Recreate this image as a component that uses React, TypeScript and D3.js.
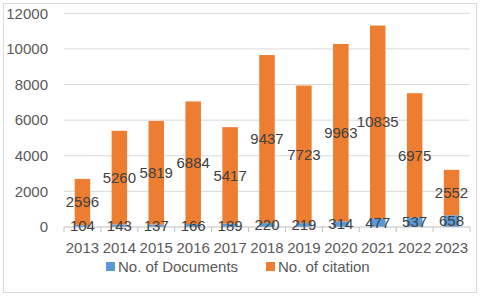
import React from 'react';
import * as d3 from 'd3';

const years = ['2013', '2014', '2015', '2016', '2017', '2018', '2019', '2020', '2021', '2022', '2023'];
const documents = [104, 143, 137, 166, 189, 220, 219, 314, 477, 537, 658];
const citations = [2596, 5260, 5819, 6884, 5417, 9437, 7723, 9963, 10835, 6975, 2552];
const yTicks = [0, 2000, 4000, 6000, 8000, 10000, 12000];

const W = 480;
const H = 297;
const left = 64;
const right = 470;
const top = 13.3;
const bottom = 227;
const font = '"Liberation Sans", Arial, sans-serif';
const BLUE = '#5B9BD5';
const ORANGE = '#ED7D31';
const TEXT = '#595959';
const LABEL = '#404040';

const App = () => {
  const x = d3.scaleBand<string>()
    .domain(years)
    .range([left, right])
    .paddingInner(0.58)
    .paddingOuter(0.29);

  const y = d3.scaleLinear().domain([0, 12000]).range([bottom, top]);
  const step = x.step();

  return (
    <svg width={W} height={H} style={{ position: 'absolute', left: 0, top: 0 }}>
      <rect x={0} y={0} width={W} height={H} fill="#fff" />
      <rect x={3.5} y={3.5} width={473} height={289} fill="none" stroke="#d9d9d9" />

      {/* grid + y labels */}
      {yTicks.map(t => (
        <g key={t}>
          {t > 0 && <line x1={left} x2={right} y1={y(t)} y2={y(t)} stroke="#d9d9d9" strokeWidth={1} />}
          <text x={48} y={y(t)} dy="0.35em" textAnchor="end" fontFamily={font} fontSize={15} fill={TEXT}>{t}</text>
        </g>
      ))}

      {/* bars */}
      {years.map((yr, i) => {
        const bx = x(yr)!;
        const bw = x.bandwidth();
        const d = documents[i];
        const c = citations[i];
        return (
          <g key={yr}>
            <rect x={bx} y={y(d)} width={bw} height={y(0) - y(d)} fill={BLUE} />
            <rect x={bx} y={y(d + c)} width={bw} height={y(d) - y(d + c)} fill={ORANGE} />
          </g>
        );
      })}

      {/* axis */}
      <line x1={left} x2={right} y1={bottom} y2={bottom} stroke="#bfbfbf" />
      {d3.range(years.length + 1).map(i => (
        <line key={i} x1={left + i * step} x2={left + i * step} y1={bottom} y2={bottom + 5} stroke="#bfbfbf" />
      ))}

      {/* data labels */}
      {years.map((yr, i) => {
        const cx = x(yr)! + x.bandwidth() / 2;
        const d = documents[i];
        const c = citations[i];
        return (
          <g key={yr} fontFamily={font} fontSize={15} fill={LABEL} textAnchor="middle">
            <text x={cx} y={(y(0) + y(d)) / 2} dy="0.35em">{d}</text>
            <text x={cx} y={(y(d) + y(d + c)) / 2} dy="0.35em">{c}</text>
          </g>
        );
      })}

      {/* x labels */}
      {years.map(yr => (
        <text key={yr} x={x(yr)! + x.bandwidth() / 2} y={248} dy="0.35em" textAnchor="middle" fontFamily={font} fontSize={15} fill={TEXT}>{yr}</text>
      ))}

      {/* legend */}
      <rect x={106} y={262} width={9} height={9} fill={BLUE} />
      <text x={118} y={267} dy="0.35em" fontFamily={font} fontSize={15} fill={TEXT}>No. of Documents</text>
      <rect x={266} y={262} width={9} height={9} fill={ORANGE} />
      <text x={278} y={267} dy="0.35em" fontFamily={font} fontSize={15} fill={TEXT}>No. of citation</text>
    </svg>
  );
};

export default App;
